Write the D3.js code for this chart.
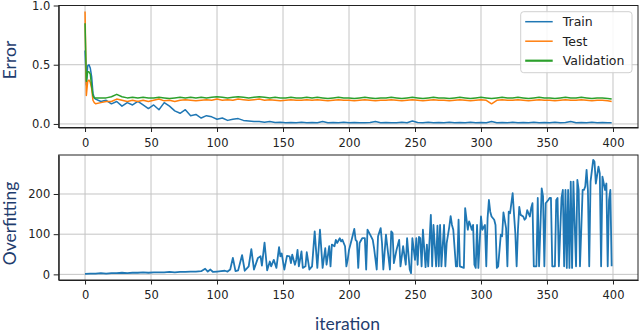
<!DOCTYPE html>
<html>
<head>
<meta charset="utf-8">
<script src="https://cdn.jsdelivr.net/npm/d3@7"></script>
<style>
  body { margin: 0; background: #fff; }
  .tick text { font-family: "DejaVu Sans", sans-serif; font-size: 11.5px; fill: #222; }
  .tick line, .domain { stroke: #222; }
</style>
</head>
<body>
<div id="chart-area"></div>
<script>
/*
*    error / overfitting chart
*/

var width = 640;
var height = 334;

// Data
var xTicks = [0, 50, 100, 150, 200, 250, 300, 350, 400];
var errTicks = [0, 0.5, 1.0];
var overTicks = [0, 100, 200];
var seriesNames = ["Train", "Test", "Validation"];
var colors = {Train: "#1f77b4", Test: "#ff7f0e", Validation: "#2ca02c"};

var errIter = d3.range(0, 9).concat(d3.range(12, 400, 4)).concat([399]);

var train = [0.62, 0.33, 0.49, 0.50, 0.47, 0.40, 0.26, 0.22, 0.21,
  0.19, 0.20, 0.17, 0.19, 0.15, 0.18, 0.16, 0.19, 0.16, 0.13,
  0.16, 0.12, 0.18, 0.15, 0.11, 0.09, 0.12, 0.07, 0.08, 0.05,
  0.07, 0.06, 0.04, 0.05, 0.03, 0.04, 0.045, 0.03, 0.025, 0.02,
  0.02, 0.015, 0.02, 0.012, 0.015, 0.01, 0.012, 0.01, 0.015, 0.01,
  0.012, 0.01, 0.02, 0.01, 0.012, 0.01, 0.015, 0.01, 0.012, 0.01,
  0.01, 0.012, 0.02, 0.01, 0.012, 0.01, 0.01, 0.015, 0.01, 0.025,
  0.012, 0.01, 0.015, 0.01, 0.012, 0.01, 0.015, 0.01, 0.012, 0.01,
  0.015, 0.01, 0.012, 0.01, 0.02, 0.01, 0.012, 0.01, 0.015, 0.01,
  0.012, 0.01, 0.015, 0.01, 0.012, 0.01, 0.015, 0.01, 0.012, 0.02,
  0.01, 0.012, 0.01, 0.015, 0.01, 0.012, 0.01, 0.01];

var test = [0.95, 0.24, 0.36, 0.37, 0.35, 0.30, 0.20, 0.18, 0.17,
  0.18, 0.19, 0.19, 0.21, 0.20, 0.19, 0.20, 0.19, 0.20, 0.19,
  0.20, 0.21, 0.195, 0.20, 0.19, 0.20, 0.205, 0.20, 0.195, 0.20,
  0.205, 0.20, 0.21, 0.20, 0.205, 0.20, 0.21, 0.205, 0.20, 0.205,
  0.21, 0.20, 0.205, 0.20, 0.195, 0.20, 0.205, 0.20, 0.20, 0.205,
  0.20, 0.205, 0.20, 0.195, 0.20, 0.205, 0.20, 0.20, 0.195, 0.20,
  0.205, 0.20, 0.195, 0.20, 0.20, 0.205, 0.20, 0.195, 0.20, 0.205,
  0.20, 0.195, 0.20, 0.205, 0.20, 0.20, 0.195, 0.20, 0.205, 0.20,
  0.195, 0.20, 0.205, 0.20, 0.17, 0.20, 0.205, 0.20, 0.20, 0.205,
  0.20, 0.195, 0.20, 0.205, 0.20, 0.20, 0.195, 0.20, 0.205, 0.20,
  0.20, 0.205, 0.20, 0.195, 0.20, 0.20, 0.195, 0.19];

var validation = [0.85, 0.36, 0.44, 0.44, 0.42, 0.32, 0.24, 0.22, 0.22,
  0.22, 0.22, 0.23, 0.25, 0.23, 0.22, 0.225, 0.22, 0.225, 0.22,
  0.22, 0.225, 0.22, 0.215, 0.22, 0.225, 0.22, 0.225, 0.22, 0.225,
  0.22, 0.225, 0.23, 0.225, 0.22, 0.225, 0.23, 0.225, 0.22, 0.225,
  0.23, 0.225, 0.22, 0.225, 0.22, 0.22, 0.225, 0.22, 0.22, 0.225,
  0.22, 0.225, 0.22, 0.215, 0.22, 0.225, 0.22, 0.22, 0.215, 0.22,
  0.225, 0.22, 0.215, 0.22, 0.22, 0.225, 0.22, 0.215, 0.22, 0.225,
  0.22, 0.215, 0.22, 0.225, 0.22, 0.22, 0.215, 0.22, 0.225, 0.22,
  0.215, 0.22, 0.225, 0.22, 0.215, 0.22, 0.225, 0.22, 0.22, 0.225,
  0.22, 0.215, 0.22, 0.225, 0.22, 0.22, 0.215, 0.22, 0.225, 0.22,
  0.22, 0.225, 0.22, 0.215, 0.22, 0.22, 0.215, 0.21];

var overIter = [0, 4, 8, 12, 16, 20, 24, 28, 32, 36, 40, 44, 48, 52, 56, 60, 64, 68, 72, 76,
  80, 84, 88, 91, 93, 95, 97, 100, 103, 106, 108, 110, 112, 114, 116, 119, 121, 124, 126, 128,
  131, 133, 134, 136, 138, 140, 141, 143, 145, 147, 148, 149, 151, 153, 155, 156, 157, 159, 160, 161,
  162, 164, 165, 167, 168, 170, 171, 172, 174, 176, 178, 180, 182, 183, 185, 186, 187, 189, 190, 191,
  193, 194, 195, 197, 198, 199, 200, 202, 204, 205, 206, 207, 208, 210, 212, 213, 214, 216, 218, 219,
  221, 222, 224, 225, 226, 228, 229, 231, 232, 233, 234, 236, 238, 239, 241, 243, 244, 246, 247, 248,
  250, 251, 252, 253, 254, 255, 256, 258, 259, 260, 262, 263, 264, 266, 267, 268, 269, 270, 272, 273,
  274, 276, 277, 278, 279, 281, 282, 283, 284, 287, 288, 290, 291, 292, 293, 294, 295, 296, 297, 298,
  300, 301, 303, 304, 305, 306, 307, 308, 310, 311, 312, 313, 315, 316, 317, 319, 320, 321, 322, 324,
  325, 326, 327, 328, 329, 330, 332, 333, 334, 335, 337, 338, 339, 340, 342, 343, 344, 346, 347, 348,
  349, 351, 352, 353, 354, 356, 357, 358, 359, 361, 362, 363, 364, 365, 366, 367, 368, 369, 370, 372,
  373, 374, 375, 377, 378, 379, 380, 381, 382, 383, 385, 386, 387, 389, 390, 391, 392, 394, 395, 396,
  397, 398, 399];

var overfitting = [1, 2, 2, 3, 2, 3, 3, 4, 3, 4, 4, 5, 4, 5, 5, 5, 6, 5, 6, 6,
  7, 7, 8, 14, 7, 12, 6, 7, 8, 9, 7, 12, 41, 8, 10, 48, 9, 20, 63, 12,
  41, 45, 22, 79, 10, 32, 20, 36, 16, 68, 45, 52, 12, 46, 45, 28, 49, 24, 36, 61,
  20, 57, 16, 20, 55, 12, 16, 20, 107, 16, 111, 16, 65, 24, 70, 20, 74, 70, 86, 78,
  90, 82, 86, 70, 20, 36, 61, 86, 113, 86, 82, 16, 78, 90, 90, 12, 111, 99, 86, 65,
  12, 95, 115, 78, 12, 99, 70, 12, 107, 103, 28, 61, 86, 20, 70, 24, 90, 12, 3, 90,
  36, 90, 24, 93, 90, 20, 111, 18, 74, 20, 148, 20, 123, 20, 121, 20, 123, 20, 123, 20,
  78, 119, 145, 123, 111, 20, 20, 136, 20, 16, 165, 111, 132, 123, 111, 123, 24, 16, 123, 16,
  144, 111, 123, 20, 140, 185, 156, 144, 136, 123, 16, 20, 99, 95, 154, 115, 20, 156, 152, 202,
  150, 103, 20, 111, 168, 148, 144, 136, 140, 160, 144, 165, 177, 20, 20, 190, 20, 214, 194, 20,
  177, 185, 190, 190, 20, 20, 185, 190, 20, 190, 210, 20, 210, 16, 210, 16, 231, 16, 231, 20,
  235, 210, 20, 210, 210, 219, 260, 210, 20, 231, 285, 280, 226, 268, 251, 20, 243, 210, 226, 20,
  185, 210, 20];

var svg = d3.select("#chart-area").append("svg").attr("width", width).attr("height", height);

// Scales
var x = d3.scaleLinear().domain([-19.95, 418.95]).range([58.7, 638]);
var yErr = d3.scaleLinear().domain([-0.03, 1.0]).range([127.5, 5.5]);
var yOver = d3.scaleLinear().domain([-14, 297]).range([280, 155]);

function panel(y, yTicks, fmt) {
  var g = svg.append("g");
  var top = y.range()[1], bottom = y.range()[0];
  // grid
  g.selectAll(".vgrid").data(xTicks).enter().append("line")
    .attr("x1", (d) => { return x(d); }).attr("x2", (d) => { return x(d); })
    .attr("y1", top).attr("y2", bottom)
    .attr("stroke", "#c4c4c4").attr("stroke-width", 1);
  g.selectAll(".hgrid").data(yTicks).enter().append("line")
    .attr("x1", x.range()[0]).attr("x2", x.range()[1])
    .attr("y1", (d) => { return y(d); }).attr("y2", (d) => { return y(d); })
    .attr("stroke", "#c4c4c4").attr("stroke-width", 1);

  var xAxisCall = d3.axisBottom(x).tickValues(xTicks).tickSize(4.5).tickPadding(6.5).tickSizeOuter(0);
  g.append("g").attr("transform", "translate(0, " + bottom + ")").call(xAxisCall);
  var yAxisCall = d3.axisLeft(y).tickValues(yTicks).tickFormat(fmt).tickSize(5).tickPadding(3.5).tickSizeOuter(0);
  g.append("g").attr("transform", "translate(" + x.range()[0] + ", 0)").call(yAxisCall);

  g.append("rect").attr("x", x.range()[0]).attr("y", top)
    .attr("width", x.range()[1] - x.range()[0]).attr("height", bottom - top)
    .attr("fill", "none").attr("stroke", "#222").attr("stroke-width", 1);
  return g;
}

var gTop = panel(yErr, errTicks, d3.format(".1f"));
var gBot = panel(yOver, overTicks, d3.format("d"));

// Lines
var errSeries = {Train: train, Test: test, Validation: validation};
var errLine = d3.line().x((d) => { return x(d[0]); }).y((d) => { return yErr(d[1]); });

seriesNames.forEach((name) => {
  var pts = errIter.map((it, i) => { return [it, errSeries[name][i]]; });
  gTop.append("path").datum(pts).attr("d", errLine)
    .attr("fill", "none").attr("stroke", colors[name])
    .attr("stroke-width", 1.5).attr("stroke-linejoin", "round");
});

var overLine = d3.line().x((d) => { return x(d[0]); }).y((d) => { return yOver(d[1]); });
var overPts = overIter.map((it, i) => { return [it, overfitting[i]]; });
gBot.append("path").datum(overPts).attr("d", overLine)
  .attr("fill", "none").attr("stroke", colors.Train)
  .attr("stroke-width", 1.8).attr("stroke-linejoin", "round");

// Legend
var legend = svg.append("g").attr("transform", "translate(520.7, 11.7)");
legend.append("rect").attr("width", 111.3).attr("height", 61).attr("rx", 3)
  .attr("fill", "#fff").attr("fill-opacity", 0.85).attr("stroke", "#d0d0d0");
seriesNames.forEach((name, i) => {
  var row = legend.append("g").attr("transform", "translate(0, " + (10 + i * 19.5) + ")");
  row.append("line").attr("x1", 4.5).attr("x2", 32).attr("y1", 0).attr("y2", 0)
    .attr("stroke", colors[name]).attr("stroke-width", name == "Validation" ? 2.2 : 1.5);
  row.append("text").attr("x", 42).attr("y", 0).attr("dy", "0.36em")
    .attr("font-family", "DejaVu Sans").attr("font-size", "12.5px").attr("fill", "#222").text(name);
});

// Labels
var labelColor = "#1f3d6e";
svg.append("text").attr("transform", "translate(16, 60) rotate(-90)").attr("text-anchor", "middle")
  .attr("font-family", "Lato").attr("font-size", "17.5px").attr("fill", labelColor).text("Error");
svg.append("text").attr("transform", "translate(16, 223.5) rotate(-90)").attr("text-anchor", "middle")
  .attr("font-family", "Lato").attr("font-size", "17.5px").attr("fill", labelColor).text("Overfitting");
svg.append("text").attr("x", 347.5).attr("y", 330).attr("text-anchor", "middle")
  .attr("font-family", "Lato").attr("font-size", "17.5px").attr("fill", labelColor).text("iteration");
</script>
</body>
</html>
